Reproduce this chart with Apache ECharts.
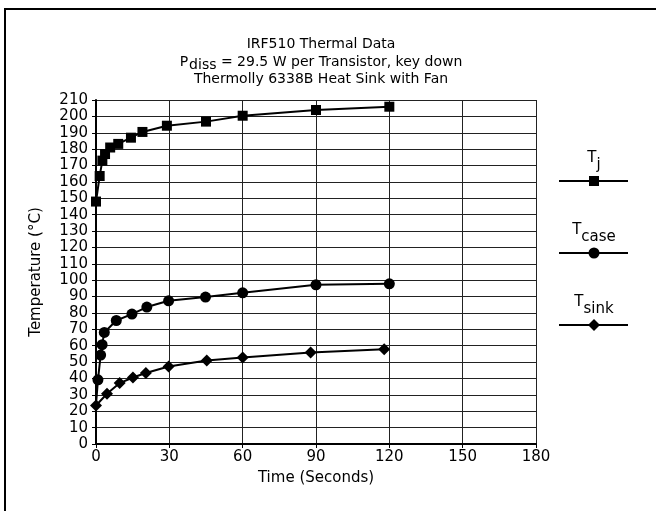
<!DOCTYPE html>
<html>
<head>
<meta charset="utf-8">
<script src="https://cdn.jsdelivr.net/npm/echarts@6/dist/echarts.min.js"></script>
<style>html,body{margin:0;padding:0;background:#fff}#c{width:656px;height:511px}</style>
</head>
<body>
<div id="c"></div>
<script>
// ---- data ----
const tjTime   = [0, 1.5, 2.6, 3.7, 5.8, 9.1, 14.3, 19, 29, 45, 60, 90, 120];
const tjTemp   = [148, 163.6, 173, 177, 181, 183.2, 187, 190.5, 194.3, 196.8, 200.4, 203.9, 205.9];
const caseTime = [0, 0.8, 1.9, 2.5, 3.4, 8.3, 14.7, 20.8, 29.7, 44.8, 60, 90, 120];
const caseTemp = [24, 39.2, 54.3, 60.6, 68.1, 75.4, 79.3, 83.6, 87.4, 89.7, 92.3, 97.2, 97.8];
const sinkTime = [0, 4.5, 9.7, 15.1, 20.4, 29.7, 45.3, 60, 87.8, 117.9];
const sinkTemp = [23.5, 30.7, 37.2, 40.6, 43.3, 47.3, 51, 52.8, 55.9, 57.9];
const xTicks = [0, 30, 60, 90, 120, 150, 180];
const yMin = 0, yMax = 210, yStep = 10;

const FONT = '"DejaVu Sans", "Liberation Sans", sans-serif';
const pair = (xs, ys) => xs.map((x, i) => [x, ys[i]]);
const caseData = pair(caseTime, caseTemp).map((p, i) => i === 0 ? {value: p, symbol: 'none'} : p);

const chart = echarts.init(document.getElementById('c'), null, {renderer: 'canvas'});
const lineStyle = {color: '#000', width: 2};
const legendItem = (y, sym, lbl) => ({
  type: 'group',
  children: [
    {type: 'line', shape: {x1: 559, y1: y, x2: 628, y2: y}, style: {stroke: '#000', lineWidth: 2}},
    sym,
    {type: 'text', style: {x: 594, y: y - 8, text: lbl, rich: {
      m: {fontSize: 15, fontFamily: FONT, fill: '#000'},
      s: {fontSize: 15, fontFamily: FONT, fill: '#000', padding: [14, 0, 0, 0]}
    }, align: 'center', verticalAlign: 'bottom'}}
  ]
});

chart.setOption({
  animation: false,
  backgroundColor: '#fff',
  title: {
    text: 'IRF510 Thermal Data\n{m|P}{s|diss}{m| = 29.5 W per Transistor, key down}\nThermolly 6338B Heat Sink with Fan',
    left: 316, top: 31, textAlign: 'center',
    textStyle: {
      fontFamily: FONT, fontSize: 14, fontWeight: 'normal', color: '#000', lineHeight: 17.5,
      rich: {
        m: {fontFamily: FONT, fontSize: 14, color: '#000', lineHeight: 17.5},
        s: {fontFamily: FONT, fontSize: 14, color: '#000', lineHeight: 17.5, padding: [6, 0, 0, 1]}
      }
    }
  },
  grid: {left: 96, right: 120, top: 100, bottom: 67, containLabel: false},
  xAxis: {
    type: 'value', min: xTicks[0], max: xTicks[xTicks.length - 1], interval: 30,
    name: 'Time (Seconds)', nameLocation: 'middle', nameGap: 27,
    nameTextStyle: {fontFamily: FONT, fontSize: 15, color: '#000'},
    axisLine: {show: true, lineStyle: {color: '#000', width: 2}},
    axisTick: {show: true, length: 4, lineStyle: {color: '#000', width: 1}},
    axisLabel: {fontFamily: FONT, fontSize: 15, color: '#000', margin: 6},
    splitLine: {show: true, lineStyle: {color: '#222', width: 1}}
  },
  yAxis: {
    type: 'value', min: yMin, max: yMax, interval: yStep,
    name: 'Temperature (°C)', nameLocation: 'middle', nameGap: 52, nameRotate: 90,
    nameTextStyle: {fontFamily: FONT, fontSize: 15, color: '#000'},
    axisLine: {show: true, lineStyle: {color: '#000', width: 2}},
    axisTick: {show: true, length: 4, lineStyle: {color: '#000', width: 1}},
    axisLabel: {fontFamily: FONT, fontSize: 15, color: '#000', margin: 8},
    splitLine: {show: true, lineStyle: {color: '#222', width: 1}}
  },
  series: [
    {name: 'Tj', type: 'line', data: pair(tjTime, tjTemp), symbol: 'rect', symbolSize: 10,
     itemStyle: {color: '#000'}, lineStyle: lineStyle},
    {name: 'Tcase', type: 'line', data: caseData, symbol: 'circle', symbolSize: 11,
     itemStyle: {color: '#000'}, lineStyle: lineStyle},
    {name: 'Tsink', type: 'line', data: pair(sinkTime, sinkTemp), symbol: 'diamond', symbolSize: [12, 12],
     itemStyle: {color: '#000'}, lineStyle: lineStyle}
  ],
  graphic: [
    {type: 'rect', shape: {x: 5, y: 9, width: 700, height: 600}, style: {fill: 'none', stroke: '#000', lineWidth: 2}, silent: true},
    legendItem(181, {type: 'rect', shape: {x: 589, y: 176, width: 10, height: 10}, style: {fill: '#000'}}, '{m|T}{s|j}'),
    legendItem(253, {type: 'circle', shape: {cx: 594, cy: 253, r: 5.5}, style: {fill: '#000'}}, '{m|T}{s|case}'),
    legendItem(325, {type: 'polygon', shape: {points: [[594, 319], [600, 325], [594, 331], [588, 325]]}, style: {fill: '#000'}}, '{m|T}{s|sink}')
  ]
});
</script>
</body>
</html>
